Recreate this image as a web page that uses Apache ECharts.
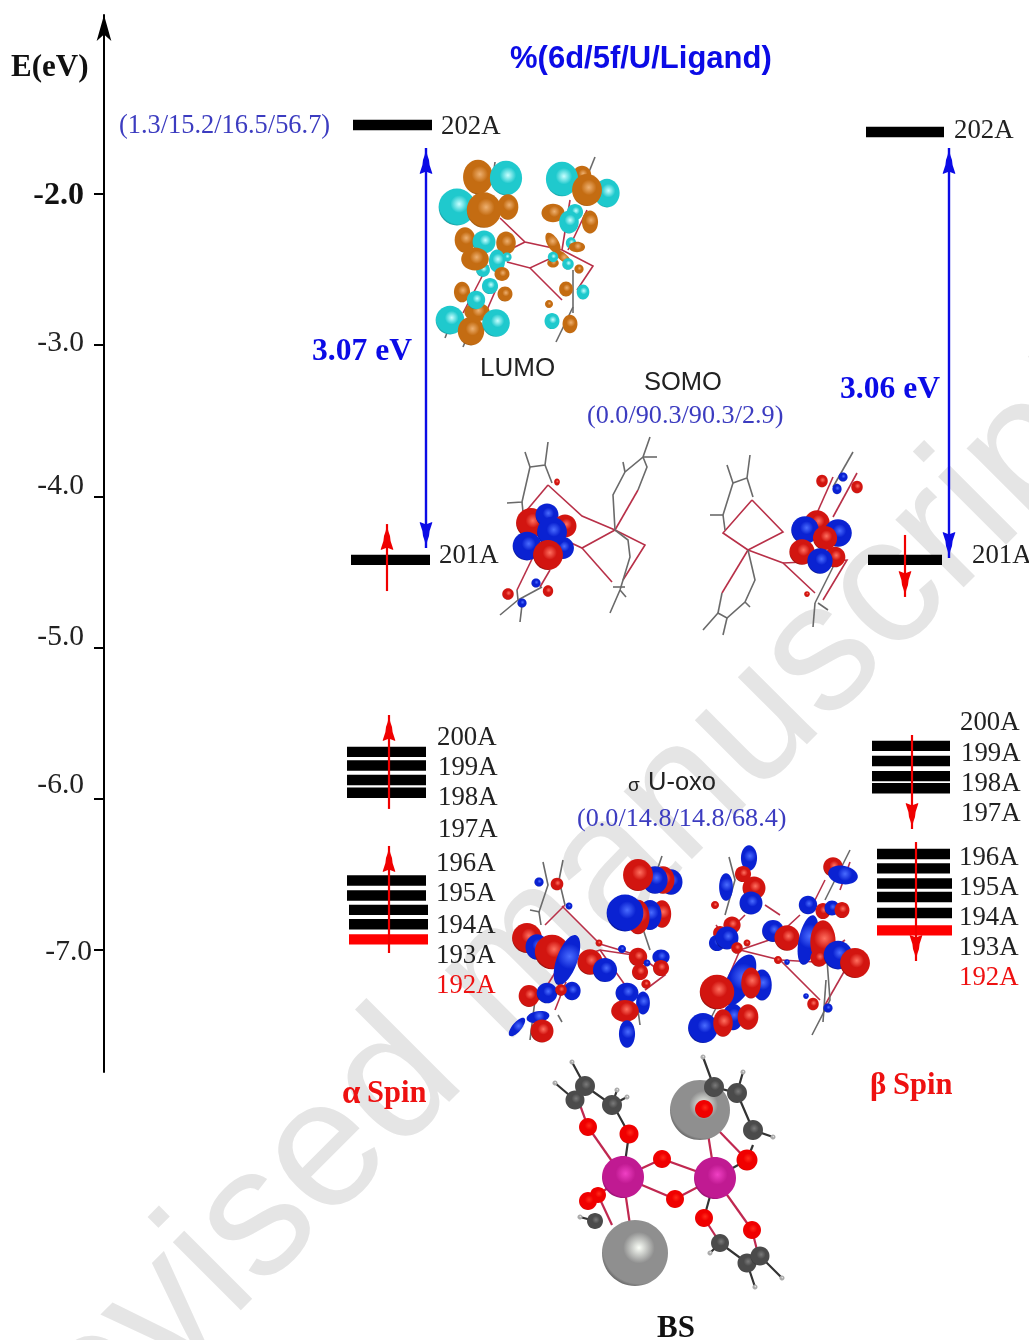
<!DOCTYPE html>
<html><head><meta charset="utf-8">
<style>html,body{margin:0;padding:0;background:#fff}#c{width:1029px;height:1340px}</style>
<script src="https://cdn.jsdelivr.net/npm/echarts@6/dist/echarts.min.js"></script>
</head><body><div id="c"></div>
<script>
// ---- data ----
const tickValues = [-2, -3, -4, -5, -6, -7];
const tickLabels = ['-2.0', '-3.0', '-4.0', '-5.0', '-6.0', '-7.0'];
const tickLabelAt = [-2.013, -2.985, -3.931, -4.93, -5.909, -7.013];

const alphaLabels = ['202A', '201A', '200A', '199A', '198A', '197A', '196A', '195A', '194A', '193A', '192A'];
const betaLabels = alphaLabels;

const alphaEnergies = [-1.544, -4.42, -5.69, -5.78, -5.876, -5.96, -6.54, -6.64, -6.735, -6.83, -6.93];
const alphaStart = [353, 351, 347, 347, 347, 347, 347, 347, 349, 349, 349];
const alphaEnd = [432, 430, 426, 426, 426, 426, 426, 426, 428, 428, 428];
const betaEnergies = [-1.59, -4.42, -5.65, -5.75, -5.85, -5.93, -6.365, -6.46, -6.56, -6.65, -6.755, -6.87];
const betaStart = [866, 868, 872, 872, 872, 872, 877, 877, 877, 877, 877, 877];
const betaEnd = [944, 942, 950, 950, 950, 950, 950, 950, 952, 952, 952, 952];

const gapArrows = [[426, -4.341, -1.696], [949, -4.407, -1.696]];
const spinArrows = [
  [387, -4.626, -4.183], [389, -6.067, -5.446], [389, -7.02, -6.312],
  [905, -4.255, -4.665], [912, -5.578, -6.2], [916, -6.286, -7.073]
];

// orbital lobes and atoms: x, y, width, height, rotation, kind
const O = 0, C = 1, R = 2, B = 3, G = 4, M = 5, X = 6, K = 7, H = 8;
const lumoLobes = [
 [478,177,26,30,0,O],[506,178,28,30,0,C],[457,207,32,32,0,C],[484,210,30,31,0,O],[508,207,18,22,0,O],
 [465,240,18,22,0,O],[484,242,20,20,0,C],[506,243,17,20,0,O],[483,270,12,12,0,C],[475,259,24,20,0,O],
 [507,257,8,8,0,C],[497,261,14,20,0,C],[502,274,13,12,0,O],[490,286,14,14,0,C],[462,292,14,18,0,O],
 [505,294,13,13,0,O],[477,312,22,16,0,O],[476,300,16,16,0,C],[450,320,25,25,0,C],[471,331,23,25,0,O],[496,323,24,24,0,C],
 [582,175,16,16,0,O],[562,179,28,30,0,C],[607,193,22,25,0,C],[587,190,26,28,0,O],[553,213,20,16,0,O],
 [575,212,14,14,0,C],[569,222,17,20,0,C],[590,222,14,20,0,O],[553,243,10,20,30,O],[571,243,9,10,0,C],
 [577,247,14,9,0,O],[563,257,16,7,-40,O],[553,263,10,8,0,O],[553,257,9,9,0,C],[568,264,10,10,0,C],[579,269,8,8,0,O],
 [566,289,12,13,0,O],[583,292,11,13,0,C],[549,304,7,7,0,O],[552,321,13,14,0,C],[570,324,13,16,0,O]
];
const somoLobes = [
 [531,523,26,26,0,R],[547,515,20,20,0,B],[565,526,20,20,0,R],[563,548,19,19,0,B],[552,532,26,26,0,B],
 [527,546,25,25,0,B],[548,555,26,26,0,R],[557,482,5,6,0,R],[536,583,8,8,0,B],[508,594,10,10,0,R],[548,591,9,10,0,R],[522,603,8,8,0,B],
 [817,523,22,22,0,R],[805,530,24,24,0,B],[838,533,24,24,0,B],[802,552,22,22,0,R],[835,557,18,18,0,R],
 [825,538,21,21,0,R],[820,561,22,22,0,B],[822,481,10,11,0,R],[843,477,8,8,0,B],[837,489,8,9,0,B],[857,487,10,11,0,R],[807,594,5,5,0,R]
];
const sigmaLobes = [
 [671,882,20,22,0,B],[663,880,20,24,0,R],[655,880,22,24,0,B],[638,875,26,28,0,R],
 [662,914,16,24,0,R],[650,915,20,26,0,B],[638,917,20,30,0,R],[625,913,32,32,0,B],
 [527,938,26,26,0,R],[537,947,20,22,0,B],[552,952,30,30,0,R],[590,962,22,22,0,R],[567,960,18,46,-20,B],[605,970,21,21,0,B],
 [599,943,6,6,0,R],[622,949,7,7,0,B],[638,957,16,16,0,R],[661,957,15,13,0,B],[640,972,14,14,0,R],[661,968,14,14,0,R],[647,963,6,6,0,B],[646,984,8,8,0,R],
 [529,996,18,19,0,R],[547,993,18,18,0,B],[572,991,15,16,0,B],[561,990,10,10,0,R],
 [627,993,20,18,0,B],[643,1003,12,20,0,B],[625,1011,24,19,0,R],[627,1034,14,24,0,B],
 [538,1017,20,10,10,B],[517,1027,8,20,-40,B],[542,1031,20,20,0,R],[539,882,8,8,0,B],[557,884,11,11,0,R],[569,906,6,6,0,B],
 [749,858,14,22,0,B],[743,874,14,14,0,R],[754,888,20,20,0,R],[751,903,20,20,0,B],[726,887,12,24,0,B],[715,905,7,7,0,R],
 [732,925,15,15,0,R],[720,933,12,12,0,R],[717,943,14,14,0,B],[727,938,20,20,0,B],[737,948,10,10,0,R],[747,943,6,6,0,R],
 [773,931,19,19,0,B],[787,938,22,22,0,R],[778,960,7,7,0,R],[808,905,16,16,0,B],[823,911,13,14,0,R],[832,908,13,13,0,B],[842,910,13,14,0,R],
 [833,867,17,17,0,R],[843,875,26,16,-10,B],[808,940,16,44,-12,B],[823,942,22,38,0,R],[819,958,15,15,0,R],[838,955,25,25,0,B],[855,963,26,26,0,R],
 [762,985,17,27,0,B],[740,980,22,48,-25,B],[751,983,17,27,0,R],[717,992,30,30,0,R],
 [733,1017,18,23,0,B],[748,1017,18,22,0,R],[703,1028,26,26,0,B],[723,1023,17,24,0,R],
 [813,1004,10,11,0,R],[828,1008,8,8,0,B],[806,996,5,5,0,B],[787,962,5,5,0,B]
];
const bsAtoms = [
 [700,1110,60,60,0,G],[585,1086,20,20,0,K],[575,1100,19,19,0,K],[612,1105,20,20,0,K],[714,1087,20,20,0,K],[737,1093,20,20,0,K],[753,1130,20,20,0,K],
 [595,1221,16,16,0,K],[720,1243,18,18,0,K],[747,1263,19,19,0,K],[760,1256,19,19,0,K],
 [635,1253,66,66,0,G],[623,1177,42,42,0,M],[715,1178,42,42,0,M],
 [588,1127,18,18,0,X],[629,1134,19,19,0,X],[662,1159,18,18,0,X],[675,1199,18,18,0,X],[704,1109,18,18,0,X],[747,1160,21,21,0,X],
 [704,1218,18,18,0,X],[752,1230,18,18,0,X],[598,1195,16,16,0,X],[588,1201,18,18,0,X],
 [572,1062,5,5,0,H],[555,1083,5,5,0,H],[617,1090,5,5,0,H],[627,1097,5,5,0,H],[703,1057,5,5,0,H],[743,1072,5,5,0,H],[773,1137,5,5,0,H],[710,1253,5,5,0,H],[755,1287,5,5,0,H],[782,1278,5,5,0,H],[580,1217,5,5,0,H]
];
// wire-frame bonds as polylines of x, y pairs
const redBonds = [
 [500,218,525,242,562,250],[507,262,530,268,562,253],[530,268,562,300],[562,250,593,266,577,290],[525,242,513,248],[570,200,562,250],[587,210,568,250],[488,265,463,313],[497,287,487,310],
 [548,485,582,516,615,530],[615,530,645,545,623,580],[615,530,582,548,550,533],[582,548,612,582],[615,530,638,490],[548,485,527,510],[533,557,517,590],[550,570,540,587],
 [752,500,783,532,748,550],[748,550,723,533,752,500],[748,550,783,563,815,593],[783,563,847,560,823,600],[748,550,722,593],[817,513,833,477],[833,517,857,473],
 [562,906,600,944,640,956],[640,956,665,975,645,990],[640,956,600,950,585,955],[600,950,625,985,640,1000],[558,968,538,1000],[566,982,555,1010],[545,925,565,905],
 [740,950,775,938,800,915],[740,950,780,960,820,1000],[780,960,815,962,845,940],[845,970,825,1005],[740,950,725,985],[716,925,735,950],[745,915,735,925],[780,915,765,905],[815,900,825,880],[840,890,850,862]
];
const greyBonds = [
 [595,157,587,177],[495,162,492,185],[573,270,573,313],[573,307,556,342],[445,338,450,325],[463,347,468,335],[480,180,476,195],
 [507,503,522,502,530,467,525,452],[530,467,545,465,548,442],[545,465,552,483],[522,502,523,512],
 [615,530,613,495,625,472,643,457,650,437],[643,457,657,457],[625,472,623,462],[643,457,647,467,638,490],
 [615,530,628,540,630,557,620,590,610,613],[620,590,626,597],[613,587,625,587],[517,590,518,600,500,615],[518,600,542,587],[522,605,520,622],
 [723,515,733,483,727,465],[710,515,723,515],[733,483,747,478,750,455],[747,478,753,497],[723,515,725,530],
 [748,550,755,580,745,602,727,618,718,613,703,630],[727,618,723,635],[745,602,750,607],[718,613,722,593],[815,603,833,567],[815,603,813,627],[818,603,828,610],[853,452,833,487],
 [543,862,548,885,539,912,541,925],[563,860,559,880,565,905],[530,910,540,912],[662,856,652,885],[650,950,640,920],[638,1010,640,1025],[530,1040,535,1000],[558,1015,562,1022],
 [729,857,735,880,725,915],[850,850,825,900],[827,960,830,1000,812,1035],[826,980,823,1022],[700,1040,720,1000]
];
const bsRedBonds = [
 [623,1177,588,1127],[623,1177,662,1159,715,1178],[623,1177,675,1199,715,1178],[623,1177,598,1195],[623,1177,630,1225],
 [715,1178,704,1109],[718,1130,747,1160],[715,1178,752,1230],[588,1127,580,1105],[704,1218,720,1243],[752,1230,757,1250],[598,1195,612,1225]
];
const bsDarkBonds = [
 [623,1177,629,1134,617,1112],[715,1178,747,1160,753,1145],[715,1178,704,1218],[704,1109,712,1090],
 [572,1062,585,1086,612,1105,617,1090],[612,1105,627,1097],[555,1083,575,1100],[703,1057,714,1087,737,1093,753,1130,773,1137],[737,1093,743,1072],
 [710,1253,720,1243,747,1263,760,1256,782,1278],[747,1263,755,1287],[580,1217,595,1221]
];

// text items: text, x, y, font family class, size, bold, colour
const SERIF = '"Liberation Serif"', SANS = '"Liberation Sans"';
const texts = [
 ['E(eV)',11,68,SERIF,31,true,'#111'],
 ['%(6d/5f/U/Ligand)',510,59,SANS,31,true,'#0b0be6'],
 ['(1.3/15.2/16.5/56.7)',119,126,SERIF,26.4,false,'#3c3cc0'],
 ['3.07 eV',312,352,SERIF,31.6,true,'#0b0be6'],
 ['3.06 eV',840,390,SERIF,31.6,true,'#0b0be6'],
 ['LUMO',480,369,SANS,26,false,'#222'],
 ['SOMO',644,383,SANS,25.5,false,'#222'],
 ['(0.0/90.3/90.3/2.9)',587,416,SERIF,26.2,false,'#3c3cc0'],
 ['(0.0/14.8/14.8/68.4)',577,819,SERIF,26.2,false,'#3c3cc0'],
 ['σ',628,786,SANS,19,false,'#222'],
 ['U-oxo',648,783,SANS,25.5,false,'#222'],
 ['α',342,1094,SERIF,33,true,'#ee1111'],
 ['Spin',367,1094,SERIF,30.5,true,'#ee1111'],
 ['β',870,1086,SERIF,31,true,'#ee1111'],
 ['Spin',893,1086,SERIF,30.5,true,'#ee1111'],
 ['BS',657,1329,SERIF,31,true,'#111']
];
const alphaLabelX = [441,439,437,438,438,438,436,436,436,436,436];
const alphaLabelY = [127,556,738,768,798,830,864,894,926,956,986];
const betaLabelX = [954,972,960,961,961,961,959,959,959,959,959];
const betaLabelY = [131,556,723,754,784,814,858,888,918,948,978];

// ---- chart ----
const { RadialGradient } = echarts.graphic;
const palette = [
  ['#eeb070', '#c46c12', '#4a2802'], ['#c8ffff', '#1fc9cd', '#0a4a4e'],
  ['#ff7060', '#d21510', '#200000'], ['#4a6cff', '#0a22d2', '#000028'],
  ['#fbfff8', '#8f8f8f', '#2c2c2c'], ['#f040c4', '#c01a92', '#4c0038'],
  ['#ff2a1a', '#f00000', '#7a0000'], ['#7a7a7a', '#4b4b4b', '#1f1f1f'], ['#eee', '#aaa', '#777']
];
const ellipseItem = (params, api) => {
  const p = api.coord([api.value(0), api.value(1)]);
  const kind = api.value(5);
  const grow = kind <= B ? 1.15 : 1;
  const w = api.value(2) * grow, h = api.value(3) * grow;
  const [a, b, c] = palette[kind];
  const fill = new RadialGradient(0.56, 0.42, 0.68 * Math.max(w, h) / Math.min(w, h), [
    { offset: 0, color: a }, { offset: 0.35, color: b }, { offset: 0.8, color: b }, { offset: 1, color: c }
  ]);
  return {
    type: 'ellipse', x: p[0], y: p[1], rotation: api.value(4) * Math.PI / 180,
    shape: { cx: 0, cy: 0, rx: w / 2, ry: h / 2 },
    style: { fill }
  };
};
const toPoly = list => list.map(b => {
  const coords = [];
  for (let i = 0; i < b.length; i += 2) coords.push([b[i], b[i + 1]]);
  return { coords };
});
const bondSeries = (list, color, width, z) => ({
  type: 'lines', coordinateSystem: 'cartesian2d', xAxisIndex: 1, yAxisIndex: 1, polyline: true, silent: true,
  lineStyle: { color, width, opacity: 1 }, data: toPoly(list), z
});
const lobeSeries = (list, z) => ({
  type: 'custom', xAxisIndex: 1, yAxisIndex: 1, silent: true, clip: false, renderItem: ellipseItem,
  encode: { x: 0, y: 1 }, data: list, z
});
const levelSeries = (name, energies, start, end, redIndex) => ({
  type: 'custom', name, xAxisIndex: 0, yAxisIndex: 0, silent: true, z: 4,
  encode: { x: [0, 1], y: 2 },
  data: energies.map((e, i) => [start[i], end[i], e, i === redIndex ? 1 : 0]),
  renderItem(params, api) {
    const a = api.coord([api.value(0), api.value(2)]);
    const b = api.coord([api.value(1), api.value(2)]);
    return { type: 'rect', shape: { x: a[0], y: a[1] - 5.2, width: b[0] - a[0], height: 10.4 },
      style: { fill: api.value(3) ? '#ff0000' : '#000' } };
  }
});
const headPts = [[0,0],[1.3,7],[3,12],[3.6,17],[6.2,25],[6.2,26],[1,24],[-1,24],[-6.2,26],[-6.2,25],[-3.6,17],[-3,12],[-1.3,7]];
const head = (x, y, dir, color) => ({
  type: 'polygon', shape: { points: headPts.map(p => [x + p[0], y + dir * p[1]]) }, style: { fill: color }
});
const arrowSeries = (list, color, width, both) => ({
  type: 'custom', xAxisIndex: 0, yAxisIndex: 0, silent: true, z: 5, clip: false,
  encode: { x: 0, y: [1, 2] }, data: list,
  renderItem(params, api) {
    const a = api.coord([api.value(0), api.value(1)]);
    const b = api.coord([api.value(0), api.value(2)]);
    const dir = b[1] > a[1] ? -1 : 1;
    const children = [
      { type: 'line', shape: { x1: a[0], y1: a[1], x2: b[0], y2: b[1] }, style: { stroke: color, lineWidth: width } },
      head(b[0], b[1], dir, color)
    ];
    if (both) children.push(head(a[0], a[1], -dir, color));
    return { type: 'group', children };
  }
});
const levelTexts = (labels, xs, ys, last) => labels.map((t, i) => ({
  type: 'text', x: xs[i], y: ys[i], z: 6,
  style: { text: t, font: `26.8px ${SERIF}`, fill: i === last ? '#ee1111' : '#222', verticalAlign: 'middle' }
}));

const chart = echarts.init(document.getElementById('c'), null, { renderer: 'canvas' });
chart.setOption({
  animation: false,
  backgroundColor: '#fff',
  grid: [
    { left: 104, top: 15, width: 925, height: 1057 },
    { left: 0, top: 0, width: 1029, height: 1340 }
  ],
  xAxis: [
    { type: 'value', gridIndex: 0, min: 104, max: 1029, show: false },
    { type: 'value', gridIndex: 1, min: 0, max: 1029, show: false }
  ],
  yAxis: [
    { type: 'value', gridIndex: 0, min: -7.807, max: -0.816, position: 'left', splitLine: { show: false }, z: 5,
      axisLine: { show: true, lineStyle: { color: '#000', width: 2 }, symbol: ['none', 'arrow'], symbolSize: [11, 26] },
      axisTick: { show: true, length: 10, inside: false, lineStyle: { color: '#000', width: 2 }, customValues: tickValues },
      axisLabel: { show: true, margin: 12, customValues: tickLabelAt,
        formatter: (v) => {
          const i = tickLabelAt.findIndex(t => Math.abs(t - v) < 1e-6);
          return i === 0 ? `{b|${tickLabels[i]}}` : i === 5 ? `{s|${tickLabels[i]}}` : `{r|${tickLabels[i]}}`;
        },
        rich: {
          b: { fontFamily: SERIF, fontSize: 32, fontWeight: 'bold', color: '#111', padding: [0, 8, 0, 0] },
          r: { fontFamily: SERIF, fontSize: 29.5, color: '#222', padding: [0, 8, 0, 0] },
          s: { fontFamily: SERIF, fontSize: 29.5, color: '#222' }
        } } },
    { type: 'value', gridIndex: 1, min: 0, max: 1340, inverse: true, show: false }
  ],
  graphic: [
    { type: 'text', x: 533, y: 947, rotation: Math.PI / 4, z: -10, silent: true,
      style: { text: 'Revised manuscript', font: `182px ${SANS}`, fill: '#e5e5e5', align: 'center', verticalAlign: 'middle' } },
    ...texts.map(t => ({ type: 'text', x: t[1], y: t[2], z: 6,
      style: { text: t[0], font: `${t[5] ? 'bold ' : ''}${t[4]}px ${t[3]}`, fill: t[6], verticalAlign: 'middle' } })),
    ...levelTexts(alphaLabels, alphaLabelX, alphaLabelY, 10),
    ...levelTexts(betaLabels, betaLabelX, betaLabelY, 10)
  ],
  series: [
    bondSeries(redBonds, '#b83048', 1.6, 2),
    bondSeries(greyBonds, '#6a6a6a', 1.6, 2),
    lobeSeries(lumoLobes, 3),
    lobeSeries(somoLobes, 3),
    lobeSeries(sigmaLobes, 3),
    bondSeries(bsRedBonds, '#c02850', 2.2, 2),
    bondSeries(bsDarkBonds, '#333', 2.2, 2),
    lobeSeries(bsAtoms, 3),
    levelSeries('alpha', alphaEnergies, alphaStart, alphaEnd, 10),
    levelSeries('beta', betaEnergies, betaStart, betaEnd, 11),
    arrowSeries(gapArrows, '#0b0be6', 2.4, true),
    arrowSeries(spinArrows, '#f00000', 2.2, false)
  ]
});
</script></body></html>
